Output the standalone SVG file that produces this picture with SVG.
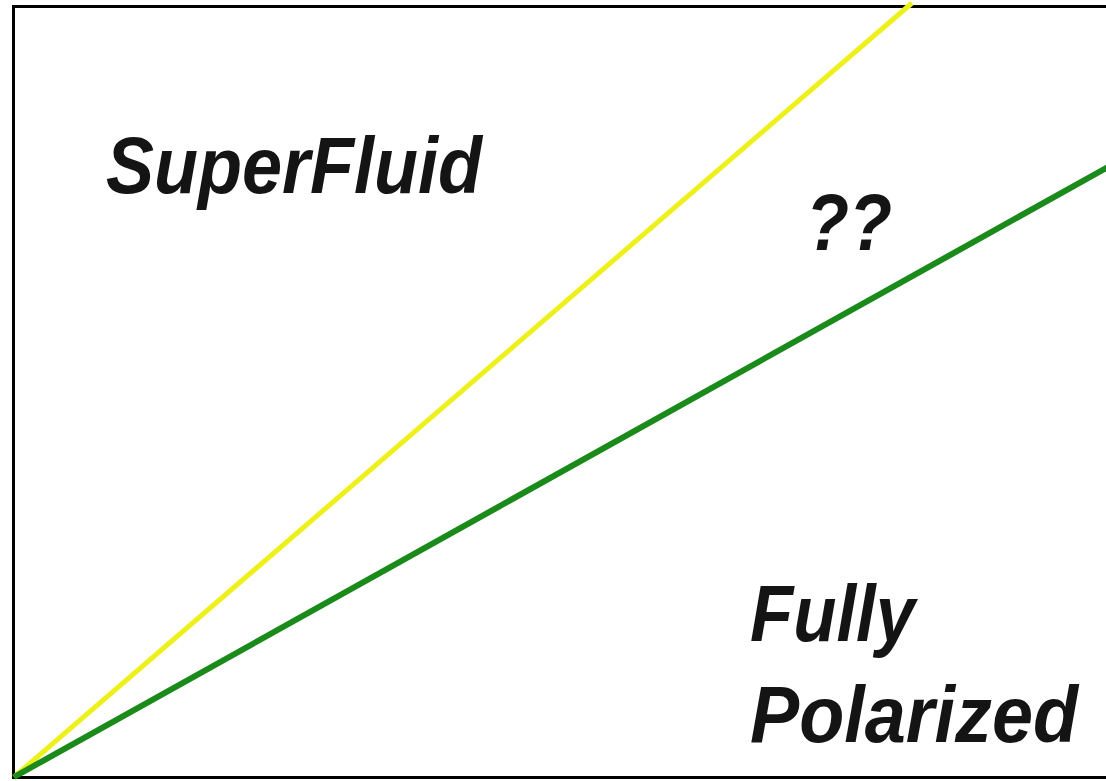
<svg xmlns="http://www.w3.org/2000/svg" width="1106" height="781" viewBox="0 0 1106 781">
<style>
.lbl{font-family:"Liberation Sans",Arial,sans-serif;font-weight:bold;font-style:italic;fill:#141414;font-size:80px}
</style>
<rect x="0" y="0" width="1106" height="781" fill="#ffffff"/>
<g id="frame"><path d="M1110,6.5 H13.5 V777.5 H1110" fill="none" stroke="#000" stroke-width="3"/></g>
<g id="connectors">
<line x1="14" y1="777" x2="912" y2="3" stroke="#eef01c" stroke-width="5"/>
<line x1="14" y1="777" x2="1108" y2="167" stroke="#1a8a1a" stroke-width="6"/>
</g>
<g id="superfluid"><text class="lbl" x="106" y="193" textLength="376" lengthAdjust="spacingAndGlyphs">SuperFluid</text></g>
<g id="unknown"><text class="lbl" x="806" y="250" textLength="86" lengthAdjust="spacingAndGlyphs">??</text></g>
<g id="fully"><text class="lbl" x="750" y="641" textLength="165" lengthAdjust="spacingAndGlyphs">Fully</text>
<text class="lbl" x="750" y="742" textLength="328" lengthAdjust="spacingAndGlyphs">Polarized</text></g>
</svg>
